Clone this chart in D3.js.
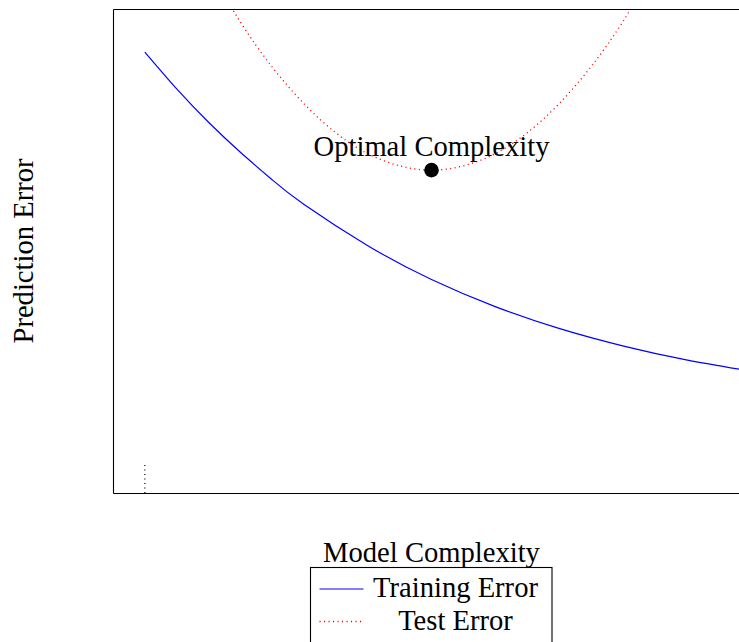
<!DOCTYPE html>
<html>
<head>
<meta charset="utf-8">
<script src="https://cdn.jsdelivr.net/npm/d3@7"></script>
<style>
  html, body { margin: 0; padding: 0; background: #fff; overflow: hidden; }
  text { font-family: "Liberation Serif", serif; fill: #000; }
</style>
</head>
<body>
<div id="chart"></div>
<script>
// model complexity (x) and error values
const trainX = [0.5, 1, 1.5, 2, 2.5, 3, 4, 5, 6, 7, 8, 9, 10];
const trainY = [9.11, 8.35, 7.66, 7.04, 6.47, 5.96, 5.11, 4.41, 3.85, 3.40, 3.04, 2.75, 2.52];

const testX = [1.5, 2, 2.5, 3, 3.5, 4, 4.5, 5, 5.5, 6, 6.5, 7, 7.5, 8, 8.5];
const testY = [10.85, 9.73, 8.80, 8.04, 7.44, 7.01, 6.76, 6.67, 6.76, 7.01, 7.44, 8.04, 8.80, 9.73, 10.85];

const optimum = { x: 5, y: 6.67, label: 'Optimal Complexity' };
const markerX = [0.5, 0.5];
const markerY = [0, 0.65];

const seriesNames = ['Training Error', 'Test Error'];

const width = 739;
const height = 642;
const margin = { top: 9, bottom: 149, left: 113, right: -11 };
const fontSize = '28.6px';

const svg = d3.select('#chart')
  .append('svg')
  .attr('width', width)
  .attr('height', height)
  .style('display', 'block');

const x = d3.scaleLinear()
  .domain([0, 10])
  .range([margin.left, width - margin.right]);

const y = d3.scaleLinear()
  .domain([0, 10])
  .range([height - margin.bottom, margin.top]);

svg.append('defs').append('clipPath')
  .attr('id', 'plot-clip')
  .append('rect')
    .attr('x', x(0))
    .attr('y', y(10))
    .attr('width', x(10) - x(0))
    .attr('height', y(0) - y(10));

const line = d3.line()
  .x(d => x(d[0]))
  .y(d => y(d[1]))
  .curve(d3.curveNatural);

const plot = svg.append('g').attr('clip-path', 'url(#plot-clip)');

plot.append('path')
  .datum(d3.zip(trainX, trainY))
  .attr('fill', 'none')
  .attr('stroke', '#0000ff')
  .attr('stroke-width', 1.2)
  .attr('d', line);

plot.append('path')
  .datum(d3.zip(testX, testY))
  .attr('fill', 'none')
  .attr('stroke', '#ff0000')
  .attr('stroke-width', 1.3)
  .attr('stroke-dasharray', '1.1 3.4')
  .attr('d', line);

plot.append('path')
  .datum(d3.zip(markerX, markerY))
  .attr('fill', 'none')
  .attr('stroke', '#000')
  .attr('stroke-width', 1.2)
  .attr('stroke-dasharray', '1.1 3.4')
  .attr('d', d3.line().x(d => x(d[0])).y(d => y(d[1])));

// optimum marker + label
svg.append('circle')
  .attr('cx', x(optimum.x))
  .attr('cy', y(optimum.y))
  .attr('r', 7.3)
  .attr('fill', '#000');

svg.append('text')
  .attr('x', x(optimum.x))
  .attr('y', y(optimum.y) - 14)
  .attr('text-anchor', 'middle')
  .attr('font-size', fontSize)
  .text(optimum.label);

// axis frame, no ticks
function frame(axis, tr) {
  svg.append('g')
    .attr('transform', tr)
    .call(axis.ticks(0).tickSizeOuter(0))
    .call(g => g.select('.domain').attr('stroke', '#000').attr('stroke-width', 1.1));
}
frame(d3.axisBottom(x), `translate(0,${y(0)})`);
frame(d3.axisTop(x), `translate(0,${y(10)})`);
frame(d3.axisLeft(y), `translate(${x(0)},0)`);
frame(d3.axisRight(y), `translate(${x(10)},0)`);

// axis labels
svg.append('text')
  .attr('x', (x(0) + x(10)) / 2)
  .attr('y', 562)
  .attr('text-anchor', 'middle')
  .attr('font-size', fontSize)
  .text('Model Complexity');

svg.append('text')
  .attr('transform', `translate(33,${(y(0) + y(10)) / 2}) rotate(-90)`)
  .attr('text-anchor', 'middle')
  .attr('font-size', fontSize)
  .text('Prediction Error');

// legend
const legend = svg.append('g').attr('transform', 'translate(310.5,567.5)');
legend.append('rect')
  .attr('width', 241.5)
  .attr('height', 100)
  .attr('fill', '#fff')
  .attr('stroke', '#000')
  .attr('stroke-width', 1.1);

const legendStyles = [
  { stroke: '#0000ff', dash: null, width: 1.2 },
  { stroke: '#ff0000', dash: '1.1 3.4', width: 1.3 }
];

seriesNames.forEach((name, i) => {
  const ly = 21.5 + i * 32.5;
  legend.append('line')
    .attr('x1', 9).attr('x2', 53)
    .attr('y1', ly).attr('y2', ly)
    .attr('stroke', legendStyles[i].stroke)
    .attr('stroke-width', legendStyles[i].width)
    .attr('stroke-dasharray', legendStyles[i].dash);
  legend.append('text')
    .attr('x', 145)
    .attr('y', ly + 8)
    .attr('text-anchor', 'middle')
    .attr('font-size', fontSize)
    .text(name);
});
</script>
</body>
</html>
